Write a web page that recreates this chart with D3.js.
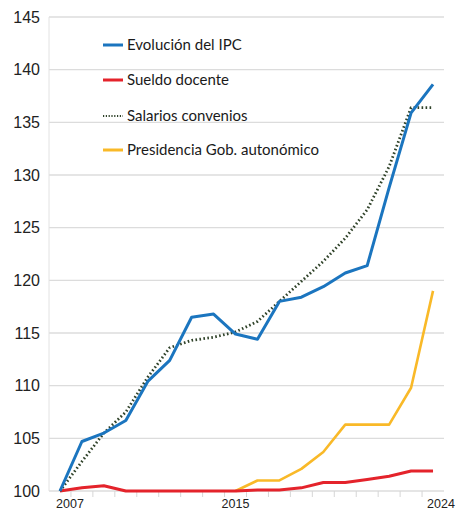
<!DOCTYPE html>
<html>
<head>
<meta charset="utf-8">
<script src="https://cdn.jsdelivr.net/npm/d3@7"></script>
<style>
  body { margin: 0; background: #fff; }
  svg { display: block; }
</style>
</head>
<body>
<div id="chart"></div>
<script>
// --- datos ---
const years = d3.range(2007, 2025);
const ipc = [100, 104.7, 105.5, 106.7, 110.4, 112.4, 116.5, 116.8, 114.9, 114.4, 118.0, 118.4, 119.4, 120.7, 121.4, 128.8, 135.9, 138.6];
const sueldoDocente = [100, 100.3, 100.5, 100, 100, 100, 100, 100, 100, 100.1, 100.1, 100.3, 100.8, 100.8, 101.1, 101.4, 101.9, 101.9];
const salariosConvenios = [100, 102.8, 105.5, 107.5, 110.8, 113.6, 114.3, 114.6, 115.1, 116.1, 118.0, 119.9, 121.8, 124.0, 126.7, 130.8, 136.4, 136.4];
const presidencia = [null, null, null, null, null, null, null, null, 100, 101.0, 101.0, 102.1, 103.7, 106.3, 106.3, 106.3, 109.8, 119.0];
const yTicks = [100, 105, 110, 115, 120, 125, 130, 135, 140, 145];
const xLabels = [2007, 2015, 2024];

const series = [
  { name: "Evolución del IPC", values: ipc, color: "#1b75bf", width: 3, dash: null },
  { name: "Sueldo docente", values: sueldoDocente, color: "#e4232b", width: 3, dash: null },
  { name: "Salarios convenios", values: salariosConvenios, color: "#2f4229", width: 2.8, dash: "1.6 2.4" },
  { name: "Presidencia Gob. autonómico", values: presidencia, color: "#f9b928", width: 2.6, dash: null }
];

const W = 457, H = 510;
const plotLeft = 49, plotRight = 444, plotTop = 17, plotBottom = 491;

const svg = d3.select("#chart").append("svg")
  .attr("width", W).attr("height", H);

const x = d3.scaleBand().domain(years).range([plotLeft, plotRight]);
const xc = d => x(d) + x.bandwidth() / 2;
const y = d3.scaleLinear().domain([100, 145]).range([plotBottom, plotTop]);

// rejilla
svg.append("g")
  .selectAll("line")
  .data(yTicks)
  .join("line")
  .attr("x1", plotLeft).attr("x2", plotRight)
  .attr("y1", d => y(d)).attr("y2", d => y(d))
  .attr("stroke", "#dcdcdc")
  .attr("stroke-width", 1.4);

// eje vertical
svg.append("line")
  .attr("x1", plotLeft).attr("x2", plotLeft)
  .attr("y1", plotTop).attr("y2", plotBottom)
  .attr("stroke", "#e2e2e2").attr("stroke-width", 1);

// etiquetas eje Y
svg.append("g")
  .selectAll("text")
  .data(yTicks)
  .join("text")
  .attr("x", 40)
  .attr("y", d => y(d))
  .attr("dy", "0.36em")
  .attr("text-anchor", "end")
  .style("font-family", "'Liberation Sans', Arial, sans-serif")
  .style("font-size", "16px")
  .style("fill", "#222")
  .text(d => d);

// marcas eje X (entre categorías)
svg.append("g")
  .selectAll("line")
  .data(years.slice(1))
  .join("line")
  .attr("x1", d => x(d)).attr("x2", d => x(d))
  .attr("y1", plotBottom).attr("y2", plotBottom + 6)
  .attr("stroke", "#d6d6d6").attr("stroke-width", 1);

// etiquetas eje X
const labelShift = { 2007: 10, 2015: 0, 2024: 8 };
svg.append("g")
  .selectAll("text")
  .data(xLabels)
  .join("text")
  .attr("x", d => xc(d) + labelShift[d])
  .attr("y", 508)
  .attr("text-anchor", "middle")
  .style("font-family", "'Liberation Sans', Arial, sans-serif")
  .style("font-size", "12.5px")
  .style("fill", "#222")
  .text(d => d);

// líneas
const line = d3.line()
  .defined(d => d.v !== null)
  .x(d => xc(d.year))
  .y(d => y(d.v));

const drawOrder = [3, 1, 2, 0];
drawOrder.forEach(i => {
  const s = series[i];
  const pts = years.map((yr, j) => ({ year: yr, v: s.values[j] }));
  const p = svg.append("path")
    .datum(pts)
    .attr("d", line)
    .attr("fill", "none")
    .attr("stroke", s.color)
    .attr("stroke-width", s.width)
    .attr("stroke-linejoin", "round");
  if (s.dash) p.attr("stroke-dasharray", s.dash);
});

// leyenda
const legendY = [45, 80, 116, 150];
const lg = svg.append("g");
series.forEach((s, i) => {
  const ly = legendY[i];
  const l = lg.append("line")
    .attr("x1", 103).attr("x2", 123)
    .attr("y1", ly).attr("y2", ly)
    .attr("stroke", s.color)
    .attr("stroke-width", s.dash ? 2 : 3);
  if (s.dash) l.attr("stroke-dasharray", "1.2 1.6");
  lg.append("text")
    .attr("x", 127)
    .attr("y", ly)
    .attr("dy", "0.35em")
    .style("font-family", "Lato, 'Open Sans', sans-serif")
    .style("font-size", "15px")
    .style("fill", "#1a1a1a")
    .text(s.name);
});
</script>
</body>
</html>
